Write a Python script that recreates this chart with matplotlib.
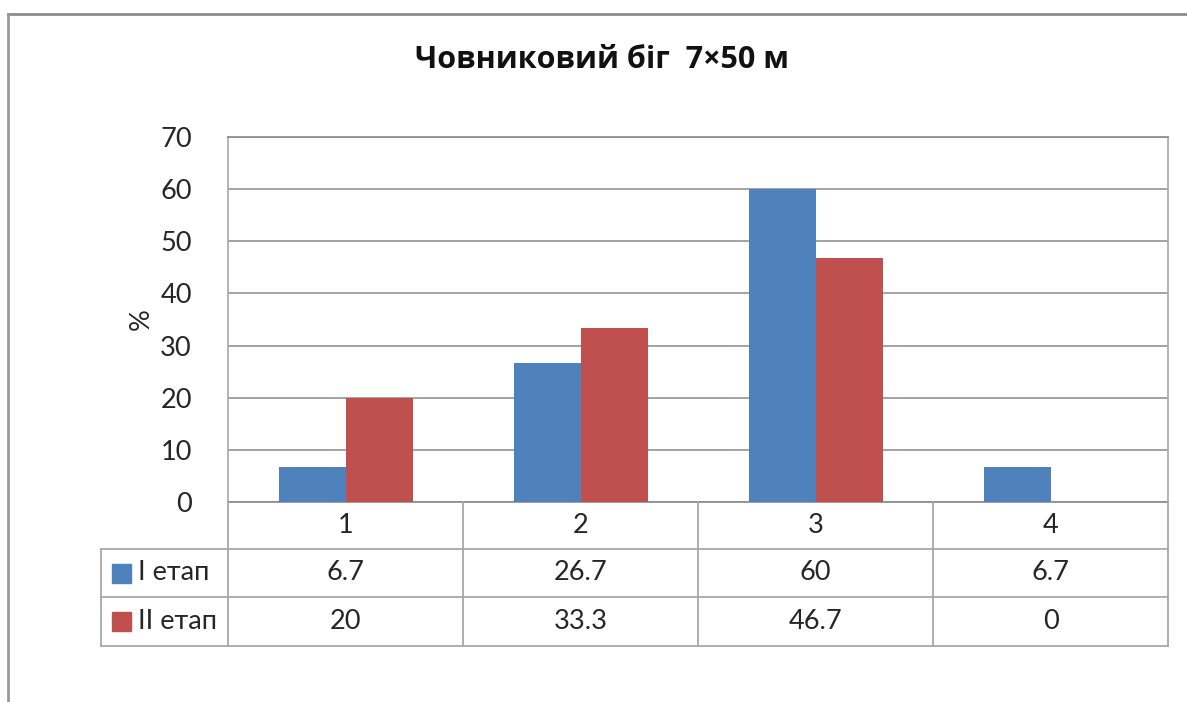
import matplotlib
matplotlib.use("Agg")
import matplotlib.pyplot as plt
from matplotlib.lines import Line2D
from matplotlib.patches import Rectangle

# Data
categories = ["1", "2", "3", "4"]
series_names = ["I етап", "II етап"]
stage1 = [6.7, 26.7, 60, 6.7]
stage2 = [20, 33.3, 46.7, 0]
yticks = [0, 10, 20, 30, 40, 50, 60, 70]

colors = ["#4F81BD", "#C0504D"]
grid_col = "#8a8a8a"
table_col = "#a8a8a8"
text_col = "#262626"
FONT = "Lato"
FS = 19.5

W, H = 1187, 702
fig = plt.figure(figsize=(W / 100, H / 100), dpi=100)
plt.rcParams["font.family"] = [FONT, "DejaVu Sans"]

# plot area in pixel coordinates
x0, x1 = 228, 1168
y_top, y_bot = 137, 502
ax = fig.add_axes([x0 / W, 1 - y_bot / H, (x1 - x0) / W, (y_bot - y_top) / H])

n = len(categories)
xs = list(range(n))
bw = 67 / 235
ax.bar([x - bw / 2 for x in xs], stage1, width=bw, color=colors[0], zorder=3)
ax.bar([x + bw / 2 for x in xs], stage2, width=bw, color=colors[1], zorder=3)

ax.set_xlim(-0.5, n - 0.5)
ax.set_ylim(0, 70)
ax.set_yticks(yticks)
ax.set_yticklabels([str(t) for t in yticks], fontsize=FS, color=text_col)
ax.tick_params(axis="y", length=0, pad=26)
ax.set_xticks([])
ax.yaxis.grid(True, color=grid_col, linewidth=1.1, zorder=0)
ax.set_axisbelow(True)
for side in ["top", "right", "left", "bottom"]:
    ax.spines[side].set_color(table_col)
    ax.spines[side].set_linewidth(1.2)
ax.spines["top"].set_color(grid_col)
ax.spines["bottom"].set_color(grid_col)

ax.set_ylabel("%", fontsize=FS, color=text_col, labelpad=5)

# data table below the plot area
ph = y_bot - y_top
pw = x1 - x0
rows = [502, 549, 597, 646]
fr = [-(r - y_bot) / ph for r in rows]
left_x = (101 - x0) / pw
tr = ax.transAxes

def seg(xa, ya, xb, yb):
    ax.add_line(Line2D([xa, xb], [ya, yb], transform=tr, color=table_col,
                       linewidth=1.3, clip_on=False, zorder=5))

# horizontal lines
for yv in fr[1:]:
    seg(left_x, yv, 1, yv)
# vertical lines
for i in range(n + 1):
    seg(i / n, 0, i / n, fr[-1])
seg(left_x, fr[1], left_x, fr[-1])

# header row: category labels
for i, c in enumerate(categories):
    ax.text((i + 0.5) / n, (fr[0] + fr[1]) / 2, c, transform=tr, ha="center",
            va="center", fontsize=FS, color=text_col)

# value rows with legend keys
for r, (name, vals) in enumerate(zip(series_names, [stage1, stage2])):
    yc = (fr[r + 1] + fr[r + 2]) / 2
    for i, v in enumerate(vals):
        ax.text((i + 0.5) / n, yc, f"{v:g}", transform=tr, ha="center",
                va="center", fontsize=FS, color=text_col)
    ks = 19
    ax.add_patch(Rectangle(((112 - x0) / pw, yc - ks / 2 / ph), ks / pw, ks / ph,
                           transform=tr, color=colors[r], clip_on=False))
    ax.text((138 - x0) / pw, yc, name, transform=tr, ha="left", va="center",
            fontsize=FS, color=text_col)

# title
fig.text(602 / W, 1 - 60 / H, "Човниковий біг  7×50 м", ha="center", va="center",
         fontsize=22, fontweight="bold", color="#111111",
         family=["Open Sans", "DejaVu Sans"])

# outer chart frame
fig.add_artist(Line2D([8 / W, 1], [1 - 13.5 / H, 1 - 13.5 / H], transform=fig.transFigure,
                      color="#8c8c8c", linewidth=2))
fig.add_artist(Line2D([8 / W, 8 / W], [1 - 13.5 / H, 0], transform=fig.transFigure,
                      color="#9a9a9a", linewidth=2))

fig.savefig("out.png", dpi=100, facecolor="white")
